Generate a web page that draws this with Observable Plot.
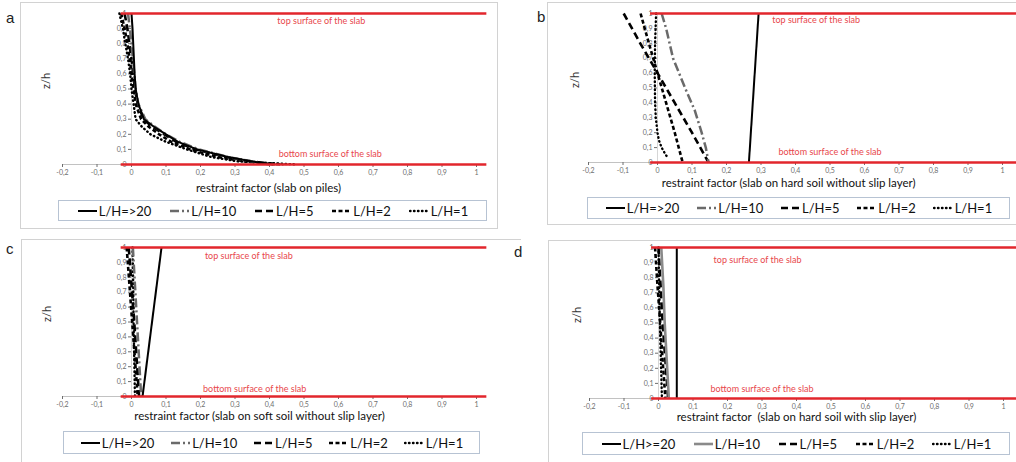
<!DOCTYPE html>
<html><head><meta charset="utf-8">
<script src="https://cdn.jsdelivr.net/npm/d3@7"></script>
<script src="https://cdn.jsdelivr.net/npm/@observablehq/plot@0.6"></script>
<style>
body{margin:0;background:#fff;width:1016px;height:462px;position:relative;overflow:hidden;font-family:Lato,"Open Sans",sans-serif;}
.frame{position:absolute;border:1px solid #d2d2d2;box-sizing:border-box;pointer-events:none;}
.plot{position:absolute;}
.letter{position:absolute;font-family:"Liberation Sans",Arial,sans-serif;font-size:15px;color:#222;line-height:1;}
.legend{position:absolute;border:1px solid #b7c3d3;display:flex;justify-content:space-evenly;align-items:center;font-size:13px;color:#111;box-sizing:border-box;background:#fff;}
.item{display:flex;align-items:center;white-space:nowrap;}
.item svg{margin-right:1px;}
</style></head><body>
<script>
// ---------- data ----------
const seriesNames = ["L/H=>20", "L/H=10", "L/H=5", "L/H=2", "L/H=1"];
const xTicks = [-0.2, -0.1, 0, 0.1, 0.2, 0.3, 0.4, 0.5, 0.6, 0.7, 0.8, 0.9, 1];
const yTicks = [0, 0.1, 0.2, 0.3, 0.4, 0.5, 0.6, 0.7, 0.8, 0.9, 1];
const surfaceZ = [1, 0];
const surfaceLabels = ["top surface of the slab", "bottom surface of the slab"];

// panel a: slab on piles
const aZ = [1, 0.9, 0.8, 0.7, 0.6, 0.5, 0.4, 0.3, 0.25, 0.2, 0.15, 0.1, 0.05, 0.02, 0];
const aLH20 = [0, 0.003, 0.005, 0.007, 0.009, 0.012, 0.02, 0.036, 0.065, 0.1, 0.135, 0.19, 0.28, 0.35, 0.41];
const aLH10 = [-0.01, -0.005, 0, 0.004, 0.008, 0.012, 0.02, 0.04, 0.068, 0.1, 0.14, 0.195, 0.28, 0.35, 0.4];
const aLH5  = [-0.02, -0.012, -0.006, 0, 0.005, 0.01, 0.018, 0.035, 0.06, 0.095, 0.13, 0.185, 0.27, 0.35, 0.42];
const aLH2  = [-0.03, -0.02, -0.012, -0.005, 0, 0.006, 0.012, 0.028, 0.05, 0.08, 0.115, 0.17, 0.25, 0.33, 0.44];
const aLH1  = [-0.035, -0.025, -0.018, -0.01, -0.004, 0, 0.006, 0.012, 0.03, 0.055, 0.1, 0.16, 0.23, 0.31, 0.48];

// panel b: hard soil without slip layer
const bZ20 = [0, 1];                     const bLH20 = [0.265, 0.293];
const bZ10 = [1, 0.9, 0.7, 0.5, 0.35, 0.2, 0.1, 0];
const bLH10 = [0.012, 0.025, 0.045, 0.08, 0.108, 0.128, 0.14, 0.148];
const bZ5 = [1, 0.8, 0.6, 0.4, 0.2, 0];  const bLH5 = [-0.098, -0.05, 0, 0.05, 0.1, 0.148];
const bZ2 = [1, 0.8, 0.6, 0.4, 0.2, 0];  const bLH2 = [-0.049, -0.025, 0, 0.025, 0.05, 0.073];
const bZ1 = [1, 0.8, 0.6, 0.4, 0.3, 0.2, 0.15, 0.1, 0.05, 0.03];
const bLH1 = [-0.004, -0.007, -0.008, -0.007, -0.005, 0, 0.004, 0.012, 0.024, 0.032];

// panel c: soft soil without slip layer
const cZ20 = [0, 1];                     const cLH20 = [0.032, 0.087];
const cZ = [1, 0.75, 0.5, 0.25, 0];
const cLH10 = [0.004, 0.01, 0.016, 0.022, 0.028];
const cLH5  = [-0.008, 0, 0.008, 0.015, 0.022];
const cLH2  = [-0.014, -0.006, 0.002, 0.01, 0.018];
const cLH1  = [0.003, 0.005, 0.006, 0.008, 0.01];

// panel d: hard soil with slip layer
const dZ20 = [0, 1];                     const dLH20 = [0.053, 0.053];
const dZ = [1, 0.75, 0.5, 0.25, 0];
const dLH10 = [0.008, 0.014, 0.018, 0.024, 0.03];
const dLH5  = [0, 0.006, 0.012, 0.02, 0.028];
const dLH2  = [-0.01, -0.003, 0.005, 0.012, 0.02];
const dLH1  = [0, 0.002, 0.004, 0.007, 0.01];

// ---------- helpers ----------
const rows = (zs, xs) => zs.map((z, i) => ({z, x: xs[i]}));
const fmt = d => String(Math.round(d * 10) / 10).replace(".", ",");
const surfaces = surfaceZ.map((z, i) => ({z, label: surfaceLabels[i]}));

const styles = {
  "L/H=>20": {stroke: "#000", strokeWidth: 2, dash: null, cap: "butt"},
  "L/H=10":  {stroke: "#6a6a6a", strokeWidth: 2.5, dash: "9 3 2 3", cap: "butt"},
  "L/H=5":   {stroke: "#000", strokeWidth: 2.6, dash: "7 4", cap: "butt"},
  "L/H=2":   {stroke: "#000", strokeWidth: 2.6, dash: "4 2.5", cap: "butt"},
  "L/H=1":   {stroke: "#000", strokeWidth: 2.4, dash: "0.5 3.5", cap: "round"}
};

const panels = [
  {letter: "a", lx: 6, ly: 10, left: 0, top: 0, w: 505, h: 232, ml: 62, mr: 29, mt: 13, mb: 68,
   frame: [20, 2, 478, 227, true], legend: [58, 200, 429, 21],
   title: "restraint factor (slab on piles)", titleX: 0.397, titleDy: 27, zdx: -16,
   labelX: [0.55, 0.576], labelZ: [0.947, 0.066], red: [-0.03, 1.03],
   labels: ["L/H=>20", "L/H=10", "L/H=5", "L/H=2", "L/H=1"], solid10: false,
   data: {"L/H=>20": rows(aZ, aLH20), "L/H=10": rows(aZ, aLH10), "L/H=5": rows(aZ, aLH5), "L/H=2": rows(aZ, aLH2), "L/H=1": rows(aZ, aLH1)}},
  {letter: "b", lx: 537, ly: 9, left: 505, top: 0, w: 511, h: 232, ml: 83, mr: 14, mt: 13, mb: 70,
   frame: [547, 2, 480, 223, false], legend: [587, 197, 423, 22],
   title: "restraint factor (slab on hard soil without slip layer)", titleX: 0.38, titleDy: 24, zdx: -13,
   labelX: [0.46, 0.50], labelZ: [0.955, 0.067], red: [-0.02, 1.06],
   labels: ["L/H=>20", "L/H=10", "L/H=5", "L/H=2", "L/H=1"], solid10: false,
   data: {"L/H=>20": rows(bZ20, bLH20), "L/H=10": rows(bZ10, bLH10), "L/H=5": rows(bZ5, bLH5), "L/H=2": rows(bZ2, bLH2), "L/H=1": rows(bZ1, bLH1)}},
  {letter: "c", lx: 6, ly: 241, left: 0, top: 232, w: 505, h: 230, ml: 62, mr: 29, mt: 15, mb: 66,
   frame: [21, 239, 500, 240, false], legend: [63, 431, 417, 23],
   title: "restraint factor (slab on soft soil without slip layer)", titleX: 0.371, titleDy: 23, zdx: -15,
   labelX: [0.34, 0.357], labelZ: [0.94, 0.047], red: [-0.03, 1.03],
   labels: ["L/H=>20", "L/H=10", "L/H=5", "L/H=2", "L/H=1"], solid10: false,
   data: {"L/H=>20": rows(cZ20, cLH20), "L/H=10": rows(cZ, cLH10), "L/H=5": rows(cZ, cLH5), "L/H=2": rows(cZ, cLH2), "L/H=1": rows(cZ, cLH1)}},
  {letter: "d", lx: 514, ly: 244, left: 505, top: 232, w: 511, h: 230, ml: 84, mr: 13, mt: 15, mb: 64,
   frame: [548, 240, 480, 240, false], legend: [582, 432, 428, 23],
   title: "restraint factor  (slab on hard soil with slip layer)", titleX: 0.40, titleDy: 22, zdx: -12,
   labelX: [0.287, 0.30], labelZ: [0.914, 0.063], red: [-0.02, 1.06],
   labels: ["L/H>=20", "L/H=10", "L/H=5", "L/H=2", "L/H=1"], solid10: true,
   data: {"L/H=>20": rows(dZ20, dLH20), "L/H=10": rows(dZ, dLH10), "L/H=5": rows(dZ, dLH5), "L/H=2": rows(dZ, dLH2), "L/H=1": rows(dZ, dLH1)}}
];

function styleFor(p, s) {
  const st = Object.assign({}, styles[s]);
  if (p.solid10 && s === "L/H=10") { st.dash = null; st.stroke = "#8a8a8a"; st.strokeWidth = 2.6; }
  return st;
}

for (const p of panels) {
  const plotW = p.w - p.ml - p.mr;
  const zeroDx = (0 - (-0.2)) / 1.2 * plotW;
  const lineMarks = seriesNames.slice().reverse().map(s => {
    const st = styleFor(p, s);
    return Plot.line(p.data[s], {x: "x", y: "z", stroke: st.stroke, strokeWidth: st.strokeWidth,
      strokeDasharray: st.dash, strokeLinecap: st.cap});
  });
  const chart = Plot.plot({
    width: p.w, height: p.h,
    marginLeft: p.ml, marginRight: p.mr, marginTop: p.mt, marginBottom: p.mb,
    x: {domain: [-0.2, 1], axis: null},
    y: {domain: [0, 1], axis: null},
    style: {background: "none", fontFamily: "Lato, sans-serif", overflow: "visible"},
    marks: [
      Plot.ruleY([0], {stroke: "#c2c2c2"}),
      Plot.ruleX([0], {stroke: "#d6d6d6"}),
      Plot.axisX({ticks: xTicks, tickFormat: fmt, tickSize: 3, tickPadding: 3, fontSize: 7, color: "#6e6e6e", label: null}),
      Plot.axisY({anchor: "left", ticks: yTicks, tickFormat: fmt, tickSize: 3, tickPadding: 2, fontSize: 7, color: "#6e6e6e", label: null, dx: zeroDx}),
      ...lineMarks,
      Plot.ruleY(surfaces, {y: "z", x1: p.red[0], x2: p.red[1], stroke: "#e2262c", strokeWidth: 2.5}),
      Plot.text(surfaces, {x: (d, i) => p.labelX[i], y: (d, i) => p.labelZ[i], text: "label", fill: "#e8474c", fontSize: 9}),
      Plot.text([p.title], {x: p.titleX, frameAnchor: "bottom", dy: p.titleDy, fontSize: 11.5, fill: "#111"}),
      Plot.text(["z/h"], {frameAnchor: "left", dx: p.zdx, rotate: -90, fontSize: 11, fill: "#333"})
    ]
  });
  chart.classList.add("plot");
  chart.style.left = p.left + "px";
  chart.style.top = p.top + "px";
  chart.style.position = "absolute";
  document.body.appendChild(chart);

  const fr = document.createElement("div");
  fr.className = "frame";
  fr.style.left = p.frame[0] + "px"; fr.style.top = p.frame[1] + "px";
  fr.style.width = p.frame[2] + "px"; fr.style.height = p.frame[3] + "px";
  if (!p.frame[4]) fr.style.borderRight = "none";
  document.body.appendChild(fr);

  const lt = document.createElement("div");
  lt.className = "letter"; lt.textContent = p.letter;
  lt.style.left = p.lx + "px"; lt.style.top = p.ly + "px";
  document.body.appendChild(lt);

  const lg = document.createElement("div");
  lg.className = "legend";
  lg.style.left = p.legend[0] + "px"; lg.style.top = p.legend[1] + "px";
  lg.style.width = p.legend[2] + "px"; lg.style.height = p.legend[3] + "px";
  seriesNames.forEach((s, i) => {
    const st = styleFor(p, s);
    const it = document.createElement("span");
    it.className = "item";
    const ns = "http://www.w3.org/2000/svg";
    const sv = document.createElementNS(ns, "svg");
    sv.setAttribute("width", 21); sv.setAttribute("height", 8);
    const ln = document.createElementNS(ns, "line");
    ln.setAttribute("x1", 1); ln.setAttribute("x2", 20); ln.setAttribute("y1", 4); ln.setAttribute("y2", 4);
    ln.setAttribute("stroke", st.stroke); ln.setAttribute("stroke-width", st.strokeWidth);
    if (st.dash) ln.setAttribute("stroke-dasharray", st.dash);
    ln.setAttribute("stroke-linecap", st.cap);
    sv.appendChild(ln);
    it.appendChild(sv);
    it.appendChild(document.createTextNode(p.labels[i]));
    lg.appendChild(it);
  });
  document.body.appendChild(lg);
}
</script></body></html>
